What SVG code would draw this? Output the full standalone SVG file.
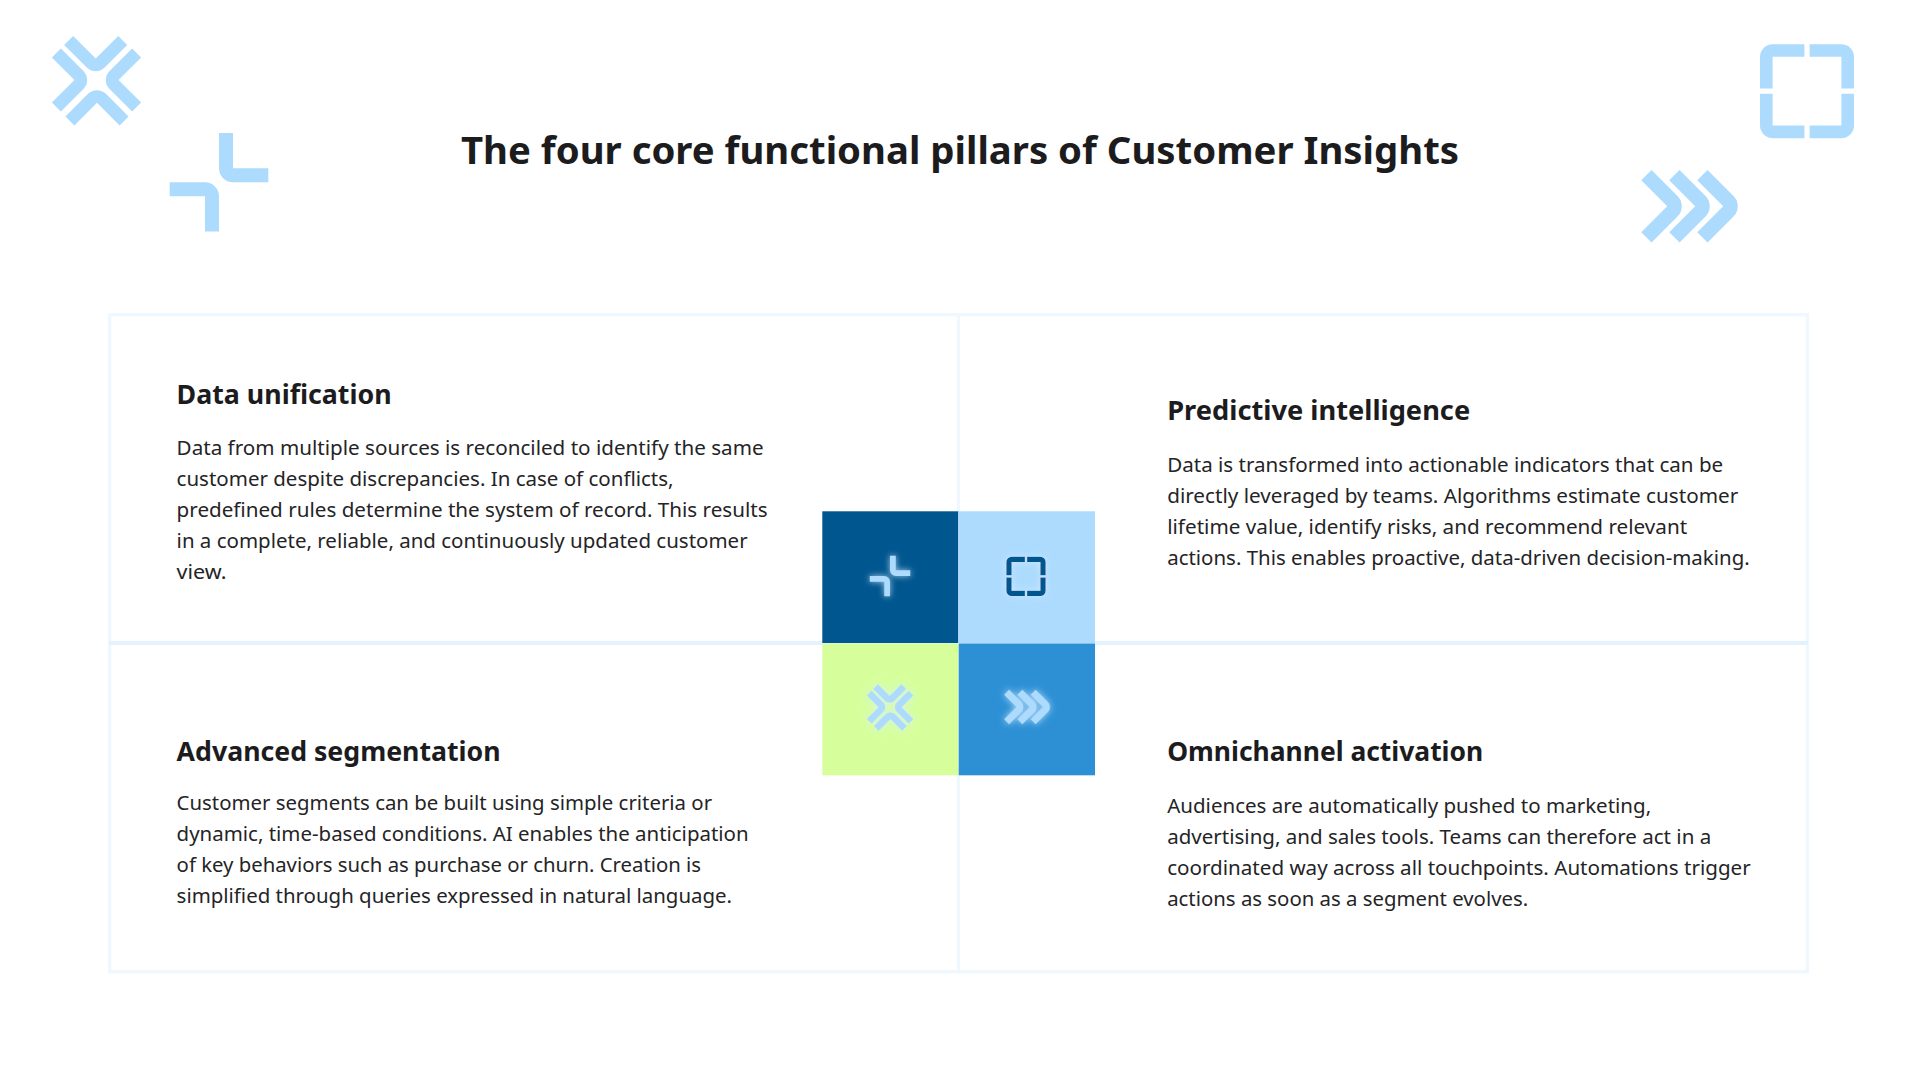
<svg xmlns="http://www.w3.org/2000/svg" xmlns:xlink="http://www.w3.org/1999/xlink" width="1920" height="1080" viewBox="0 0 1920 1080">
<style>
text{font-family:"Noto Sans","Open Sans",sans-serif;fill:#1c1c1e}
.t{font-size:38px;font-weight:700}
.h{font-size:27px;font-weight:700}
.b{font-size:20.5px;fill:#242426}
.deco{fill:#addbfe}
.ic{fill:#addbfe;filter:url(#glow)}
.ln{stroke:#eff8ff;stroke-width:3.4;fill:none}
.mid{stroke:#e3f3fe;stroke-width:4;fill:none}
</style>
<defs>
<filter id="glow" x="-50%" y="-50%" width="200%" height="200%"><feDropShadow dx="0" dy="0" stdDeviation="8" flood-color="#d8eeff" flood-opacity=".8"/></filter>
<path id="e" d="M0,-49.3H14V-14H49.3V0H14A14,14 0 0 1 0,-14Z"/>
<g id="ix">
<use xlink:href="#e" transform="translate(-.6,-3.8) rotate(-45) scale(.905)"/>
<use xlink:href="#e" transform="translate(.7,4.6) rotate(135) scale(.905)"/>
<use xlink:href="#e" transform="translate(-3.9,-.3) rotate(-135) scale(.905)"/>
<use xlink:href="#e" transform="translate(4.3,-.3) rotate(45) scale(.905)"/>
</g>
<g id="ic"><use xlink:href="#e"/><use xlink:href="#e" transform="rotate(180)"/></g>
<g id="is">
<use xlink:href="#e" transform="translate(-47,-47) rotate(90) scale(.9)"/>
<use xlink:href="#e" transform="translate(47,-47) rotate(180) scale(.9)"/>
<use xlink:href="#e" transform="translate(47,47) rotate(-90) scale(.9)"/>
<use xlink:href="#e" transform="translate(-47,47) scale(.9)"/>
</g>
<g id="ih">
<use xlink:href="#e" transform="translate(-2,0) rotate(-135) scale(1.04)"/>
<use xlink:href="#e" transform="translate(26,0) rotate(-135) scale(1.04)"/>
<use xlink:href="#e" transform="translate(54,0) rotate(-135) scale(1.04)"/>
</g>
</defs>
<rect width="1920" height="1080" fill="#fff"/>
<g id="decor" class="deco">
<use xlink:href="#ix" transform="translate(96.3,80.3)"/>
<use xlink:href="#ic" transform="translate(219,182.3)"/>
<use xlink:href="#is" transform="translate(1807,91.2)"/>
<use xlink:href="#ih" transform="translate(1689.8,206.2)"/>
</g>
<text id="title" class="t" x="461" y="163.5" textLength="998" lengthAdjust="spacingAndGlyphs">The four core functional pillars of Customer Insights</text>
<g id="connectors">
<rect class="ln" x="109.7" y="314.7" width="1697.8" height="657"/>
<path class="mid" d="M109,643H1808"/>
<path class="ln" d="M958.5,315V972"/>
</g>
<g id="data-unification">
<rect x="822.3" y="511.3" width="136" height="131.7" fill="#00568f"/>
<use class="ic" xlink:href="#ic" transform="translate(890,576) scale(.41)"/>
<text class="h" x="176.6" y="404" textLength="215" lengthAdjust="spacingAndGlyphs">Data unification</text>
<text class="b" x="176.6" y="455" textLength="587" lengthAdjust="spacingAndGlyphs">Data from multiple sources is reconciled to identify the same</text>
<text class="b" x="176.6" y="486" textLength="497" lengthAdjust="spacingAndGlyphs">customer despite discrepancies. In case of conflicts,</text>
<text class="b" x="176.6" y="517" textLength="591" lengthAdjust="spacingAndGlyphs">predefined rules determine the system of record. This results</text>
<text class="b" x="176.6" y="548" textLength="571" lengthAdjust="spacingAndGlyphs">in a complete, reliable, and continuously updated customer</text>
<text class="b" x="176.6" y="579" textLength="50" lengthAdjust="spacingAndGlyphs">view.</text>
</g>
<g id="predictive-intelligence">
<rect x="958.3" y="511.3" width="136.7" height="131.7" fill="#addbfe"/>
<use class="ic" style="fill:#00568f" xlink:href="#is" transform="translate(1026,576.3) scale(.418)"/>
<text class="h" x="1167.2" y="420" textLength="303" lengthAdjust="spacingAndGlyphs">Predictive intelligence</text>
<text class="b" x="1167.2" y="472.3" textLength="556" lengthAdjust="spacingAndGlyphs">Data is transformed into actionable indicators that can be</text>
<text class="b" x="1167.2" y="503.3" textLength="571" lengthAdjust="spacingAndGlyphs">directly leveraged by teams. Algorithms estimate customer</text>
<text class="b" x="1167.2" y="534.3" textLength="520" lengthAdjust="spacingAndGlyphs">lifetime value, identify risks, and recommend relevant</text>
<text class="b" x="1167.2" y="565.3" textLength="582.5" lengthAdjust="spacingAndGlyphs">actions. This enables proactive, data-driven decision-making.</text>
</g>
<g id="advanced-segmentation">
<rect x="822.3" y="643.5" width="136" height="131.8" fill="#d6ff9c"/>
<use class="ic" xlink:href="#ix" transform="translate(890,707.3) scale(.52)"/>
<text class="h" x="176.6" y="761" textLength="324" lengthAdjust="spacingAndGlyphs">Advanced segmentation</text>
<text class="b" x="176.6" y="810.3" textLength="535.5" lengthAdjust="spacingAndGlyphs">Customer segments can be built using simple criteria or</text>
<text class="b" x="176.6" y="841.3" textLength="572" lengthAdjust="spacingAndGlyphs">dynamic, time-based conditions. AI enables the anticipation</text>
<text class="b" x="176.6" y="872.3" textLength="524.5" lengthAdjust="spacingAndGlyphs">of key behaviors such as purchase or churn. Creation is</text>
<text class="b" x="176.6" y="903.3" textLength="555.5" lengthAdjust="spacingAndGlyphs">simplified through queries expressed in natural language.</text>
</g>
<g id="omnichannel-activation">
<rect x="958.7" y="643.5" width="136.3" height="131.8" fill="#2d90d5"/>
<use class="ic" xlink:href="#ih" transform="translate(1027.2,707) scale(.474)"/>
<text class="h" x="1167.2" y="761" textLength="316" lengthAdjust="spacingAndGlyphs">Omnichannel activation</text>
<text class="b" x="1167.2" y="813.3" textLength="484" lengthAdjust="spacingAndGlyphs">Audiences are automatically pushed to marketing,</text>
<text class="b" x="1167.2" y="844.3" textLength="544" lengthAdjust="spacingAndGlyphs">advertising, and sales tools. Teams can therefore act in a</text>
<text class="b" x="1167.2" y="875.3" textLength="583.5" lengthAdjust="spacingAndGlyphs">coordinated way across all touchpoints. Automations trigger</text>
<text class="b" x="1167.2" y="906.3" textLength="361" lengthAdjust="spacingAndGlyphs">actions as soon as a segment evolves.</text>
</g>
</svg>
